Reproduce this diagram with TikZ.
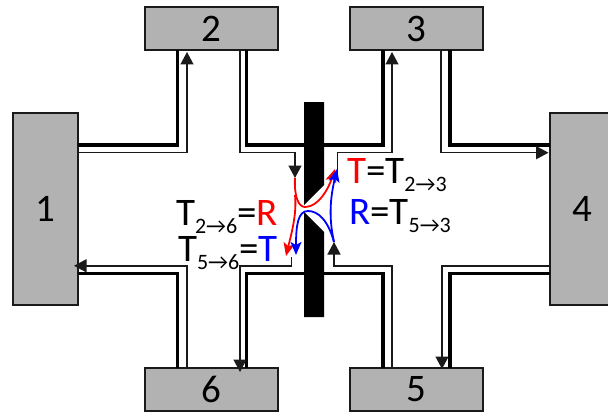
\documentclass[tikz,border=0pt]{standalone}
\usepackage{fontspec}
\setmainfont{Carlito}
\usetikzlibrary{arrows.meta}
\definecolor{boxgray}{HTML}{B2B2B2}
\definecolor{edge}{HTML}{1A1A1A}
\newcommand{\sbs}[1]{\raisebox{-8.5pt}{\fontsize{22}{22}\selectfont #1}}
\tikzset{
  box/.style={draw=edge,fill=boxgray,line width=2pt,inner sep=0pt,outer sep=0pt,font=\fontsize{39}{39}\selectfont,text=black},
  hbox/.style={box,minimum width=133pt,minimum height=43pt},
  vbox/.style={box,minimum width=65pt,minimum height=192pt},
  wall/.style={draw=black,line width=3.4pt,line join=miter},
  lane/.style={draw=edge,line width=1.4pt,-{Triangle[length=12.5pt,width=13pt]}},
  laneplain/.style={draw=edge,line width=1.4pt},
  flow/.style={line width=1.8pt,-{Stealth[length=13pt,width=11pt,inset=3pt]}},
  eq/.style={inner sep=0pt,outer sep=0pt,anchor=base west,font=\fontsize{39}{39}\selectfont}
}
\begin{document}
\begin{tikzpicture}[x=1pt,y=-1pt]
\useasboundingbox (0,0) rectangle (608,412);
\clip (0,0) rectangle (608,412);
\node[hbox] (b2) at (211.5,28.5) {2};
\node[hbox] (b3) at (416.5,28.5) {3};
\node[hbox] (b6) at (211.5,389.5) {6};
\node[hbox] (b5) at (416.5,389.5) {5};
\node[vbox] (b1) at (45.5,209) {1};
\node[vbox] (b4) at (582.5,209) {4};
% thick walls
\draw[wall] (b1.east |- 0,145) -- (177.5,145) -- (177.5,0 |- b2.south);
\draw[wall] (246.7,0 |- b2.south) -- (246.7,145) -- (383,145) -- (383,0 |- b3.south);
\draw[wall] (450,0 |- b3.south) -- (450,145) -- (b4.west |- 0,145);
\draw[wall] (b1.east |- 0,273.5) -- (177.5,273.5) -- (177.5,0 |- b6.north);
\draw[wall] (246.7,0 |- b6.north) -- (246.7,273.5) -- (383,273.5) -- (383,0 |- b5.north);
\draw[wall] (450,0 |- b5.north) -- (450,273.5) -- (b4.west |- 0,273.5);
% barrier
\fill[black] (304,102) -- (324,102) -- (324,185) -- (304,205) -- cycle;
\fill[black] (304,212) -- (324,232) -- (324,317) -- (304,317) -- cycle;
% thin lanes
\coordinate (in2) at (295,178);
\coordinate (out2) at (337.3,176);
\coordinate (out6) at (291.5,257);
\coordinate (in3) at (334,242);
\draw[lane] (b1.east |- 0,152.7) -- (187,152.7) -- (187,52);
\draw[lane] (240,0 |- b2.south) -- (240,152.7) -- (295,152.7) -- (in2);
\draw[laneplain] (392,64) -- (392,152.7) -- (337.3,152.7) -- (out2);
\draw[lane] (392,152.7) -- (392,52);
\draw[lane] (441,0 |- b3.south) -- (441,152.7) -- (548.5,152.7);
\draw[lane] (187,0 |- b6.north) -- (187,265.8) -- (74,265.8);
\draw[lane] (out6) -- (291.5,265.8) -- (240,265.8) -- (240,372);
\draw[lane] (392,0 |- b5.north) -- (392,265.8) -- (334,265.8) -- (in3);
\draw[lane] (b4.west |- 0,265.8) -- (442,265.8) -- (442,369);
% scattering curves
\draw[flow,red] (in2) .. controls (294,198) and (299,207) .. (305,207) .. controls (318,207) and (328,190) .. (335,169);
\draw[flow,red] (295,195) .. controls (297,215) and (291,235) .. (286,256);
\draw[flow,blue] (in3) .. controls (328,220) and (318,211) .. (308,211) .. controls (298,211) and (296,225) .. (296,255);
\draw[flow,blue] (in3) .. controls (328,215) and (331,195) .. (337,169);
% labels
\node[eq] (l26) at (176,225) {T\sbs{2→6}=\textcolor{red}{R}};
\node[eq] (l56) at (178,261) {T\sbs{5→6}=\textcolor{blue}{T}};
\node[eq] (l23) at (347,183) {\textcolor{red}{T}=T\sbs{2→3}};
\node[eq] (l53) at (349,224) {\textcolor{blue}{R}=T\sbs{5→3}};
\end{tikzpicture}
\end{document}
